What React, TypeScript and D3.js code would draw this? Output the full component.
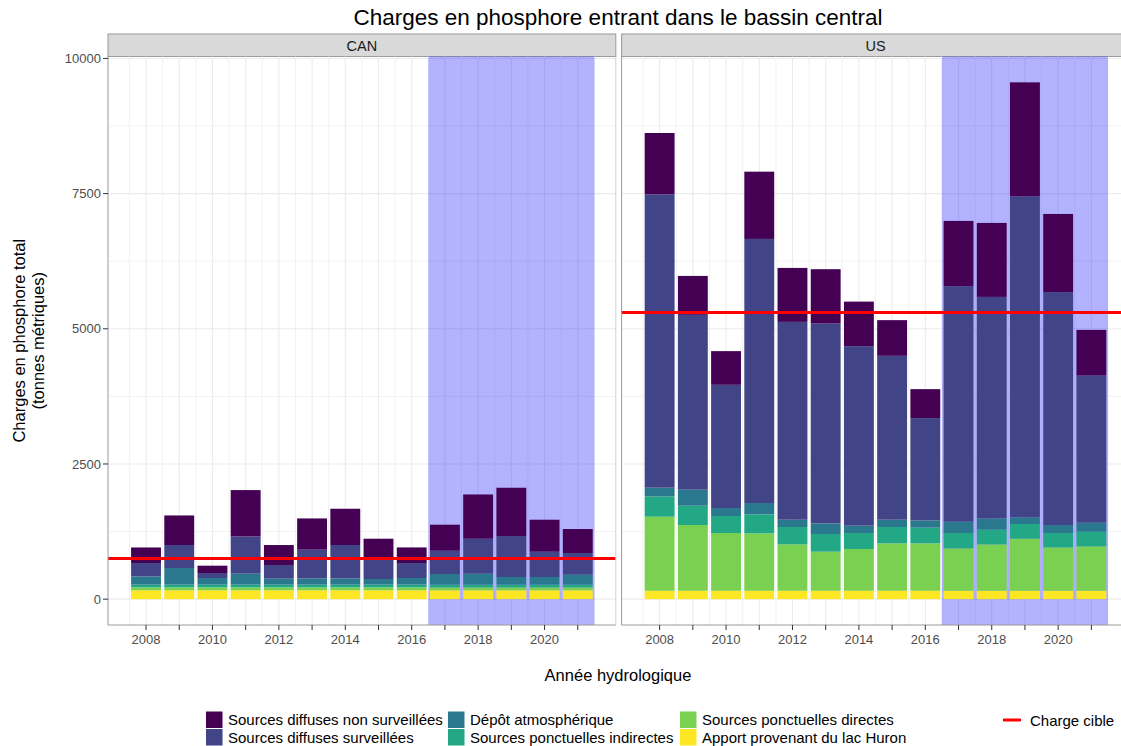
import React from "react";
import * as d3 from "d3";

const years = [2008, 2009, 2010, 2011, 2012, 2013, 2014, 2015, 2016, 2017, 2018, 2019, 2020, 2021];
const labelYears = [2008, 2010, 2012, 2014, 2016, 2018, 2020];
const yTicks = [0, 2500, 5000, 7500, 10000];
const yMinor = [1250, 3750, 6250, 8750];

const seriesKeys = ["huron", "directes", "indirectes", "depot", "surveillees", "nonSurveillees"];
const seriesLabels = [
  "Apport provenant du lac Huron",
  "Sources ponctuelles directes",
  "Sources ponctuelles indirectes",
  "Dépôt atmosphérique",
  "Sources diffuses surveillées",
  "Sources diffuses non surveillées",
];
const seriesColors = ["#FDE725", "#7AD151", "#22A884", "#2A788E", "#414487", "#440154"];

// CAN
const canNonSurveillees = [288, 547, 135, 857, 369, 578, 671, 376, 289, 481, 818, 893, 591, 443];
const canSurveillees = [247, 425, 93, 689, 253, 530, 616, 369, 277, 431, 647, 757, 468, 402];
const canDepot = [153, 308, 123, 203, 111, 117, 117, 105, 123, 197, 203, 142, 142, 184];
const canIndirectes = [50, 50, 50, 50, 50, 50, 50, 50, 50, 50, 50, 50, 50, 50];
const canDirectes = [53, 53, 53, 53, 53, 53, 53, 53, 53, 53, 53, 53, 53, 53];
const canHuron = [165, 165, 165, 165, 165, 165, 165, 165, 165, 165, 165, 165, 165, 165];

// US
const usNonSurveillees = [1133, 720, 623, 1244, 998, 1005, 824, 660, 535, 1207, 1368, 2107, 1447, 844];
const usSurveillees = [5427, 3234, 2279, 4884, 3659, 3696, 3321, 3031, 1893, 4356, 4097, 5939, 4306, 2722];
const usDepot = [161, 296, 147, 211, 135, 196, 135, 135, 135, 209, 209, 122, 148, 167];
const usIndirectes = [375, 357, 315, 351, 321, 327, 295, 303, 290, 284, 271, 272, 266, 271];
const usDirectes = [1370, 1216, 1068, 1061, 858, 723, 773, 876, 876, 784, 858, 963, 802, 821];
const usHuron = [155, 155, 155, 155, 155, 155, 155, 155, 155, 155, 155, 155, 155, 155];

const canTarget = 750;
const usTarget = 5300;
const shadeStart = 2016.5;
const shadeEnd = 2021.5;

const buildRows = (h, d, i, dep, s, ns) =>
  years.map((y, k) => ({
    year: y,
    huron: h[k],
    directes: d[k],
    indirectes: i[k],
    depot: dep[k],
    surveillees: s[k],
    nonSurveillees: ns[k],
  }));

const panels = [
  {
    name: "CAN",
    rows: buildRows(canHuron, canDirectes, canIndirectes, canDepot, canSurveillees, canNonSurveillees),
    target: canTarget,
  },
  {
    name: "US",
    rows: buildRows(usHuron, usDirectes, usIndirectes, usDepot, usSurveillees, usNonSurveillees),
    target: usTarget,
  },
];

const W = 1121;
const H = 746;
const FONT = "'Liberation Sans', Arial, Helvetica, sans-serif";
const panelTop = 56.5;
const panelBottom = 625;
const panelW = 507.8;
const panelLefts = [108, 621.6];
const stripTop = 34;

export default function App() {
  const stack = d3.stack().keys(seriesKeys);
  const stacked = panels.map((p) => stack(p.rows));
  const maxTotal = d3.max(stacked.flat(), (s) => d3.max(s, (d) => d[1]));
  const yScale = d3
    .scaleLinear()
    .domain([-0.05 * maxTotal, 1.05 * maxTotal])
    .range([panelBottom, panelTop]);

  const xmin = years[0] - 0.45;
  const xmax = years[years.length - 1] + 0.45;
  const pad = (xmax - xmin) * 0.05;
  const xMinor = d3.range(years[0] - 0.5, years[years.length - 1] + 1, 1);

  return (
    <svg width={W} height={H} style={{ position: "absolute", left: 0, top: 0, background: "#fff" }} fontFamily={FONT}>
      <rect x={0} y={0} width={W} height={H} fill="#fff" />
      <text x={618} y={25} textAnchor="middle" fontSize={22.5} fill="#000">
        Charges en phosphore entrant dans le bassin central
      </text>

      {panels.map((p, pi) => {
        const left = panelLefts[pi];
        const xScale = d3.scaleLinear().domain([xmin - pad, xmax + pad]).range([left, left + panelW]);
        const bw = xScale(0.9) - xScale(0);
        return (
          <g key={p.name}>
            {/* strip */}
            <rect x={left} y={stripTop} width={panelW} height={panelTop - stripTop} fill="#D9D9D9" stroke="#9a9a9a" strokeWidth={1} />
            <text x={left + panelW / 2} y={50.5} textAnchor="middle" fontSize={14.5} fill="#1A1A1A">
              {p.name}
            </text>
            {/* grid */}
            {yMinor.map((v) => (
              <line key={"ym" + v} x1={left} x2={left + panelW} y1={yScale(v)} y2={yScale(v)} stroke="#F2F2F2" strokeWidth={1} />
            ))}
            {xMinor.map((v) => (
              <line key={"xm" + v} x1={xScale(v)} x2={xScale(v)} y1={panelTop} y2={panelBottom} stroke="#F2F2F2" strokeWidth={1} />
            ))}
            {yTicks.map((v) => (
              <line key={"yM" + v} x1={left} x2={left + panelW} y1={yScale(v)} y2={yScale(v)} stroke="#EBEBEB" strokeWidth={1.1} />
            ))}
            {years.map((v) => (
              <line key={"xM" + v} x1={xScale(v)} x2={xScale(v)} y1={panelTop} y2={panelBottom} stroke="#EBEBEB" strokeWidth={1.1} />
            ))}
            {/* shading */}
            <rect
              x={xScale(shadeStart)}
              y={panelTop}
              width={xScale(shadeEnd) - xScale(shadeStart)}
              height={panelBottom - panelTop}
              fill="#0000FF"
              fillOpacity={0.3}
            />
            {/* bars */}
            {stacked[pi].map((s, si) => (
              <g key={s.key} fill={seriesColors[si]}>
                {s.map((d) => (
                  <rect
                    key={d.data.year}
                    x={xScale(d.data.year) - bw / 2}
                    width={bw}
                    y={yScale(d[1])}
                    height={yScale(d[0]) - yScale(d[1])}
                  />
                ))}
              </g>
            ))}
            {/* target */}
            <line x1={left} x2={left + panelW} y1={yScale(p.target)} y2={yScale(p.target)} stroke="#FF0000" strokeWidth={3} />
            {/* axes */}
            <line x1={left} x2={left} y1={panelTop} y2={panelBottom} stroke="#9a9a9a" strokeWidth={1} />
            <line x1={left} x2={left + panelW} y1={panelBottom} y2={panelBottom} stroke="#9a9a9a" strokeWidth={1} />
            <line x1={left + panelW} x2={left + panelW} y1={panelTop} y2={panelBottom} stroke="#d0d0d0" strokeWidth={1} />
            {years.map((v) => (
              <line key={"xt" + v} x1={xScale(v)} x2={xScale(v)} y1={panelBottom} y2={panelBottom + 5} stroke="#333" strokeWidth={1} />
            ))}
            {labelYears.map((v) => (
              <text key={"xl" + v} x={xScale(v)} y={643.5} textAnchor="middle" fontSize={13} fill="#4D4D4D">
                {v}
              </text>
            ))}
          </g>
        );
      })}

      {/* y axis */}
      {yTicks.map((v) => (
        <g key={"yt" + v}>
          <line x1={103} x2={108} y1={yScale(v)} y2={yScale(v)} stroke="#333" strokeWidth={1} />
          <text x={101} y={yScale(v)} dy="0.35em" textAnchor="end" fontSize={13} fill="#4D4D4D">
            {v}
          </text>
        </g>
      ))}
      <g transform={`translate(25, ${(panelTop + panelBottom) / 2}) rotate(-90)`}>
        <text x={0} y={0} textAnchor="middle" fontSize={16.5} fill="#000">
          Charges en phosphore total
        </text>
      </g>
      <g transform={`translate(44, ${(panelTop + panelBottom) / 2}) rotate(-90)`}>
        <text x={0} y={0} textAnchor="middle" fontSize={16.5} fill="#000">
          (tonnes métriques)
        </text>
      </g>
      <text x={618} y={681} textAnchor="middle" fontSize={16.5} fill="#000">
        Année hydrologique
      </text>

      {/* legend */}
      {[5, 4, 3, 2, 1, 0].map((si, idx) => {
        const col = Math.floor(idx / 2);
        const row = idx % 2;
        const kx = [206, 448, 680][col];
        const ky = 711.5 + row * 17.5;
        return (
          <g key={"lg" + si}>
            <rect x={kx} y={ky} width={16.5} height={16.5} fill={seriesColors[si]} />
            <text x={kx + 22} y={ky + 13.5} fontSize={15} fill="#000">
              {seriesLabels[si]}
            </text>
          </g>
        );
      })}
      <line x1={1003} x2={1021} y1={720} y2={720} stroke="#FF0000" strokeWidth={3} />
      <text x={1030} y={725.5} fontSize={15} fill="#000">
        Charge cible
      </text>
    </svg>
  );
}
